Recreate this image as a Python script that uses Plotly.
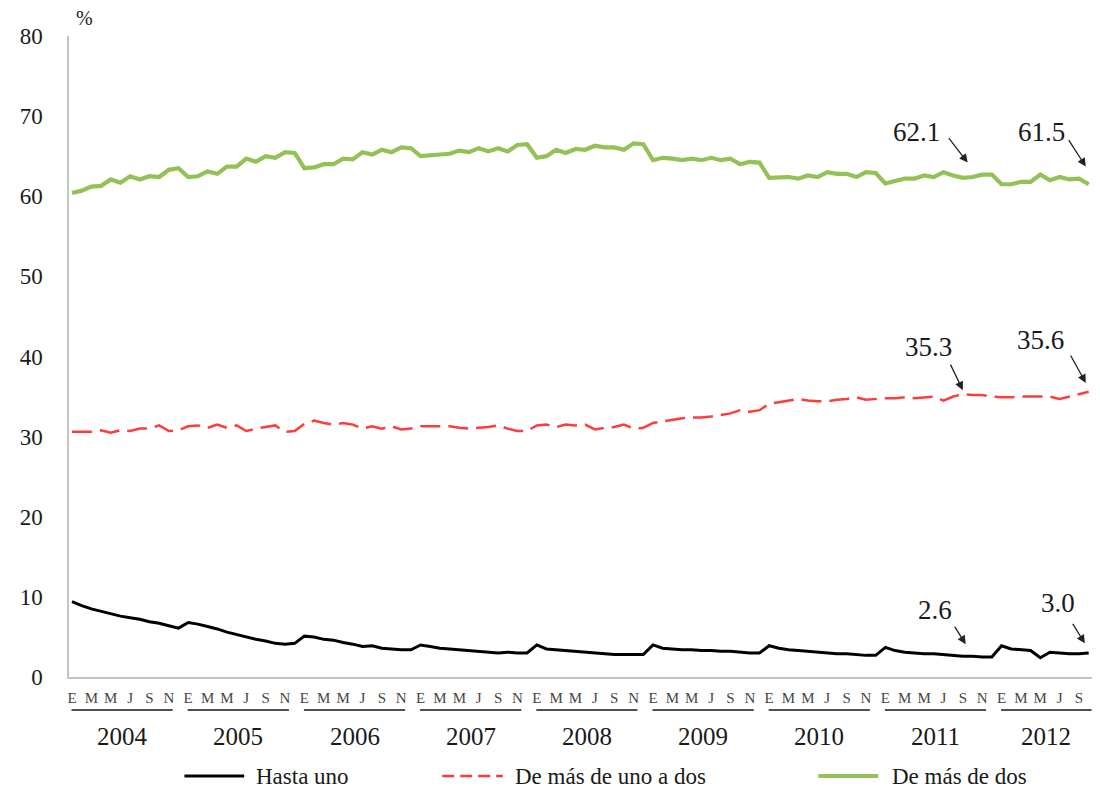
import plotly.graph_objects as go

# ---------------- data ----------------
years = ["2004", "2005", "2006", "2007", "2008", "2009", "2010", "2011", "2012"]
month_letters = ["E", "M", "M", "J", "S", "N"]
n_months = 106  # Jan 2004 .. Oct 2012

hasta_uno = [
    9.4, 8.9, 8.5, 8.2, 7.9, 7.6, 7.4, 7.2, 6.9, 6.7, 6.4, 6.1,
    6.8, 6.6, 6.3, 6.0, 5.6, 5.3, 5.0, 4.7, 4.5, 4.2, 4.1, 4.2,
    5.1, 5.0, 4.7, 4.6, 4.3, 4.1, 3.8, 3.9, 3.6, 3.5, 3.4, 3.4,
    4.0, 3.8, 3.6, 3.5, 3.4, 3.3, 3.2, 3.1, 3.0, 3.1, 3.0, 3.0,
    4.0, 3.5, 3.4, 3.3, 3.2, 3.1, 3.0, 2.9, 2.8, 2.8, 2.8, 2.8,
    4.0, 3.6, 3.5, 3.4, 3.4, 3.3, 3.3, 3.2, 3.2, 3.1, 3.0, 3.0,
    3.9, 3.6, 3.4, 3.3, 3.2, 3.1, 3.0, 2.9, 2.9, 2.8, 2.7, 2.7,
    3.7, 3.3, 3.1, 3.0, 2.9, 2.9, 2.8, 2.7, 2.6, 2.6, 2.5, 2.5,
    3.9, 3.5, 3.4, 3.3, 2.4, 3.1, 3.0, 2.9, 2.9, 3.0,
]

de_uno_a_dos = [
    30.6, 30.6, 30.6, 30.8, 30.5, 30.8, 30.7, 31.0, 31.0, 31.4, 30.7, 30.8,
    31.3, 31.4, 31.1, 31.5, 31.1, 31.4, 30.7, 31.0, 31.2, 31.4, 30.6, 30.7,
    31.6, 32.0, 31.7, 31.5, 31.7, 31.5, 31.0, 31.3, 31.0, 31.3, 30.9, 31.0,
    31.3, 31.3, 31.3, 31.3, 31.1, 31.0, 31.1, 31.2, 31.4, 31.0, 30.7, 30.7,
    31.4, 31.5, 31.2, 31.5, 31.4, 31.5, 30.9, 31.1, 31.2, 31.5, 31.0, 31.1,
    31.7, 31.9, 32.1, 32.3, 32.4, 32.4, 32.5, 32.7, 32.9, 33.3, 33.1, 33.3,
    34.1, 34.3, 34.5, 34.7, 34.5, 34.4, 34.4, 34.6, 34.7, 34.9, 34.6, 34.7,
    34.8, 34.8, 34.9, 34.8, 34.9, 35.0, 34.5, 35.0, 35.3, 35.2, 35.2, 35.0,
    34.9, 34.9, 35.0, 35.0, 35.0, 35.0, 34.7, 35.0, 35.3, 35.6,
]

de_mas_de_dos = [
    60.4, 60.7, 61.2, 61.3, 62.1, 61.7, 62.5, 62.1, 62.5, 62.4, 63.3, 63.5,
    62.4, 62.5, 63.1, 62.8, 63.7, 63.7, 64.7, 64.3, 65.0, 64.8, 65.5, 65.4,
    63.5, 63.6, 64.0, 64.0, 64.7, 64.6, 65.5, 65.2, 65.8, 65.5, 66.1, 66.0,
    65.0, 65.1, 65.3, 65.3, 65.7, 65.5, 66.0, 65.6, 66.0, 65.6, 66.4, 66.5,
    64.8, 65.0, 65.8, 65.4, 65.9, 65.8, 66.3, 66.1, 66.1, 65.8, 66.6, 66.5,
    64.5, 64.8, 64.7, 64.5, 64.7, 64.5, 64.8, 64.5, 64.7, 64.0, 64.3, 64.2,
    62.3, 62.3, 62.4, 62.2, 62.6, 62.4, 63.0, 62.8, 62.8, 62.4, 63.0, 62.9,
    61.6, 61.9, 62.2, 62.2, 62.6, 62.4, 63.0, 62.6, 62.3, 62.4, 62.7, 62.7,
    61.5, 61.5, 61.8, 61.8, 62.7, 62.0, 62.4, 62.1, 62.2, 61.5,
]

series_names = ["Hasta uno", "De más de uno a dos", "De más de dos"]
label_texts = ["62.1", "61.5", "35.3", "35.6", "2.6", "3.0"]

# ---------------- layout helpers ----------------
W, H = 1100, 797
OFF = 8  # page body margin added by the browser
L, R, T, B = 64, 1095, 36, 677  # target plot area in page pixels
SERIF = "Liberation Serif, Times New Roman, serif"
TXT = "#1a1a1a"


def pxx(xp):
    return (xp - L) / (R - L)


def pxy(yp):
    return (B - yp) / (B - T)


idx = list(range(n_months))
tickvals, ticktext = [], []
for yi in range(len(years)):
    for k, m in enumerate(month_letters):
        v = 12 * yi + 2 * k
        if v < n_months:
            tickvals.append(v)
            ticktext.append(m)

fig = go.Figure()
fig.add_trace(go.Scatter(x=idx, y=hasta_uno, mode="lines", name=series_names[0],
                         line=dict(color="#000000", width=3), showlegend=False))
fig.add_trace(go.Scatter(x=idx, y=de_uno_a_dos, mode="lines", name=series_names[1],
                         line=dict(color="#ff3b3b", width=2.5, dash="20px,8px"), showlegend=False))
fig.add_trace(go.Scatter(x=idx, y=de_mas_de_dos, mode="lines", name=series_names[2],
                         line=dict(color="#94c155", width=4.2), showlegend=False))

shapes = []
annotations = []

# year underlines and labels
for yi, yr in enumerate(years):
    x0 = 12 * yi - 0.05
    x1 = min(12 * yi + 10.4, n_months - 0.7)
    shapes.append(dict(type="line", xref="x", yref="paper", x0=x0, x1=x1,
                       y0=pxy(710), y1=pxy(710), line=dict(color="#505050", width=2)))
    annotations.append(dict(x=(x0 + x1) / 2, y=pxy(736), xref="x", yref="paper",
                            text=yr, showarrow=False, xanchor="center", yanchor="middle",
                            font=dict(family=SERIF, size=25, color=TXT)))

# value labels with arrows
label_pos = [(87.2, 68.0), (100.1, 68.0), (88.5, 41.2), (100.0, 42.0), (89.1, 8.4), (101.8, 9.2)]
arrow_tips = [(92.5, 64.2), (104.7, 63.7), (92.0, 35.8), (104.7, 36.7), (92.3, 4.1), (104.6, 4.2)]
arrow_offs = [(-20, -26), (-18, -28), (-13, -27), (-16, -29), (-12, -19), (-13, -21)]
for txt, (lx, ly), (tx, ty), (ax, ay) in zip(label_texts, label_pos, arrow_tips, arrow_offs):
    annotations.append(dict(x=lx, y=ly, xref="x", yref="y", text=txt, showarrow=False,
                            xanchor="center", yanchor="middle",
                            font=dict(family=SERIF, size=27, color=TXT)))
    annotations.append(dict(x=tx, y=ty, xref="x", yref="y", text="", showarrow=True,
                            ax=ax, ay=ay, arrowhead=2, arrowsize=1.3, arrowwidth=1.3,
                            arrowcolor="#222222", standoff=0, startstandoff=0))

# "%" unit label
annotations.append(dict(x=pxx(80), y=pxy(18), xref="paper", yref="paper", text="%",
                        showarrow=False, xanchor="center", yanchor="middle",
                        font=dict(family=SERIF, size=20, color=TXT)))

# legend (manual)
leg_y = 776
leg_items = [
    (180, 240, 250, dict(color="#000000", width=3)),
    (439, 500, 510, dict(color="#ff3b3b", width=2.5, dash="12px,6px")),
    (817, 877, 889, dict(color="#94c155", width=4.2)),
]
for name, (lx0, lx1, tx, ln) in zip(series_names, leg_items):
    shapes.append(dict(type="line", xref="paper", yref="paper", x0=pxx(lx0), x1=pxx(lx1),
                       y0=pxy(leg_y), y1=pxy(leg_y), line=ln))
    annotations.append(dict(x=pxx(tx), y=pxy(leg_y), xref="paper", yref="paper", text=name,
                            showarrow=False, xanchor="left", yanchor="middle",
                            font=dict(family=SERIF, size=23, color=TXT)))

fig.update_layout(
    width=W, height=H, autosize=False,
    margin=dict(l=L - OFF, r=W - (R - OFF), t=T - OFF, b=H - (B - OFF), pad=0),
    plot_bgcolor="white", paper_bgcolor="white",
    shapes=shapes, annotations=annotations,
    showlegend=False,
    xaxis=dict(range=[-0.31, 105.65], showgrid=False, zeroline=False,
               showline=True, linecolor="#c4c4c4", linewidth=1.5,
               tickmode="array", tickvals=tickvals, ticktext=ticktext, ticks="",
               tickangle=0, ticklabelstandoff=6,
               tickfont=dict(family=SERIF, size=15, color="#454545")),
    yaxis=dict(range=[0, 80], showgrid=False, zeroline=False,
               showline=True, linecolor="#c4c4c4", linewidth=1.5,
               tickmode="array", tickvals=list(range(0, 81, 10)), ticks="",
               ticklabelstandoff=20,
               tickfont=dict(family=SERIF, size=23, color=TXT)),
)

fig.write_html("out.html")
